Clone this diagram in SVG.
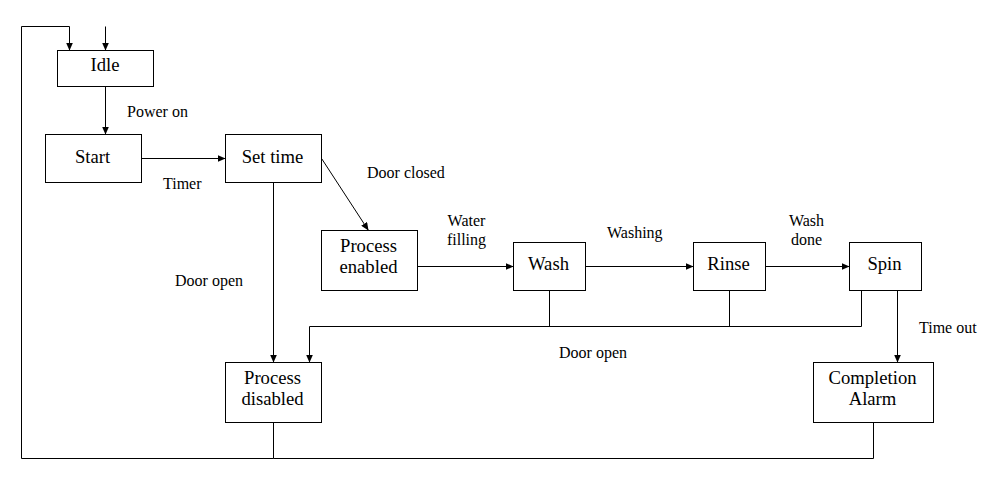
<svg xmlns="http://www.w3.org/2000/svg" width="987" height="493" viewBox="0 0 987 493">
<style>
.box{fill:#fff;stroke:#000;stroke-width:1}
.nt{font-family:'Liberation Serif','Times New Roman','DejaVu Serif',serif;font-size:18.67px;fill:#000;text-anchor:middle}
.lb{font-family:'Liberation Serif','Times New Roman','DejaVu Serif',serif;font-size:16px;fill:#000}
.ln{fill:none;stroke:#000;stroke-width:1}
.ar{marker-end:url(#ah)}
</style>
<defs>
<marker id="ah" markerUnits="userSpaceOnUse" markerWidth="8" markerHeight="7" refX="8" refY="3.5" orient="auto">
<path d="M0,0 L8,3.5 L0,7 z" fill="#000"/>
</marker>
</defs>
<rect width="987" height="493" fill="#fff"/>
<g id="connectors">
<path class="ln ar" d="M105.5,26.5 V50.5"/>
<path class="ln ar" d="M273.5,458.5 H21.5 V26.5 H69.5 V50.5"/>
<path class="ln" d="M273.5,422.5 V458.5 M873.5,422.5 V458.5 H273.5"/>
<path class="ln ar" d="M105.5,86.5 V134.5"/>
<path class="ln ar" d="M141.5,158.5 H225.5"/>
<path class="ln ar" d="M321.7,158.7 L368.5,230.5"/>
<path class="ln ar" d="M273.5,182.5 V362.5"/>
<path class="ln ar" d="M417.5,266.5 H513.5"/>
<path class="ln ar" d="M585.5,266.5 H693.5"/>
<path class="ln ar" d="M765.5,266.5 H849.5"/>
<path class="ln ar" d="M897.5,290.5 V362.5"/>
<path class="ln ar" d="M861.5,290.5 V326.5 H309.5 V362.5"/>
<path class="ln" d="M549.5,290.5 V326.5 M729.5,290.5 V326.5"/>
</g>
<g id="labels" font-family="Liberation Serif, Times New Roman, serif">
<text class="lb" x="127" y="117">Power on</text>
<text class="lb" x="163" y="189">Timer</text>
<text class="lb" x="367" y="178">Door closed</text>
<text class="lb" x="466.5" y="226" text-anchor="middle">Water</text>
<text class="lb" x="466.5" y="244.5" text-anchor="middle">filling</text>
<text class="lb" x="607" y="237.5">Washing</text>
<text class="lb" x="806.5" y="226" text-anchor="middle">Wash</text>
<text class="lb" x="806.5" y="244.5" text-anchor="middle">done</text>
<text class="lb" x="919" y="332.5">Time out</text>
<text class="lb" x="175" y="286">Door open</text>
<text class="lb" x="559" y="358">Door open</text>
</g>
<g id="idle"><rect class="box" x="57.5" y="50.5" width="96" height="36"/><text class="nt" x="105" y="71">Idle</text></g>
<g id="start"><rect class="box" x="45.5" y="134.5" width="96" height="48"/><text class="nt" x="92.5" y="162.5">Start</text></g>
<g id="settime"><rect class="box" x="225.5" y="134.5" width="96" height="48"/><text class="nt" x="272.5" y="162.5">Set time</text></g>
<g id="enabled"><rect class="box" x="321.5" y="230.5" width="96" height="60"/><text class="nt" x="368.5" y="252">Process</text><text class="nt" x="368.5" y="272.5">enabled</text></g>
<g id="wash"><rect class="box" x="513.5" y="242.5" width="72" height="48"/><text class="nt" x="548.5" y="269.5">Wash</text></g>
<g id="rinse"><rect class="box" x="693.5" y="242.5" width="72" height="48"/><text class="nt" x="728.5" y="269.5">Rinse</text></g>
<g id="spin"><rect class="box" x="849.5" y="242.5" width="72" height="48"/><text class="nt" x="884.5" y="269.5">Spin</text></g>
<g id="disabled"><rect class="box" x="225.5" y="362.5" width="96" height="60"/><text class="nt" x="272.5" y="384">Process</text><text class="nt" x="272.5" y="404.5">disabled</text></g>
<g id="alarm"><rect class="box" x="813.5" y="362.5" width="120" height="60"/><text class="nt" x="872.5" y="384">Completion</text><text class="nt" x="872.5" y="404.5">Alarm</text></g>
</svg>
